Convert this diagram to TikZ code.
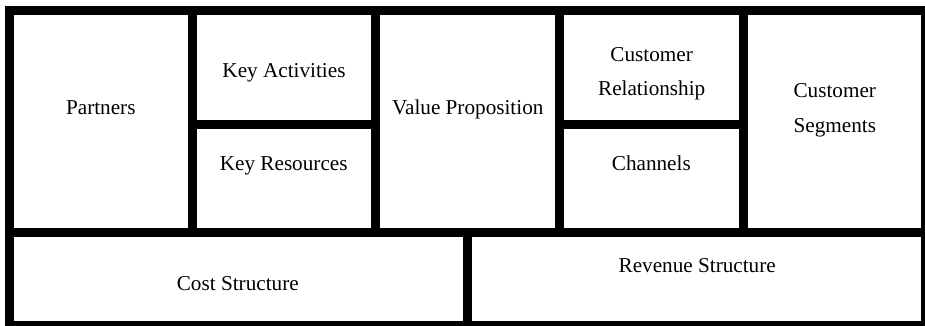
\documentclass[tikz,border=0pt]{standalone}
\usepackage{fontspec}
\setmainfont{Liberation Serif}
\begin{document}
\begin{tikzpicture}[x=1pt,y=-1pt,
  rule/.style={line width=9pt, draw=black},
  cell/.style={font=\fontsize{21.2}{34.7}\selectfont, inner sep=0pt, anchor=base, align=center, text=black}]
  \useasboundingbox (0,0) rectangle (925,326);
  \fill[white] (0,0) rectangle (925,326);
  \clip (0,0) rectangle (925,326);

  % outer frame and grid rules (centre lines)
  \coordinate (tl) at (9.2,10.5);
  \coordinate (br) at (925.5,325.5);
  \draw[rule] (tl) rectangle (br);
  \draw[rule] (9.2,232.5) -- (925.5,232.5);
  \draw[rule] (192.5,10.5) -- (192.5,232.5);
  \draw[rule] (375.5,10.5) -- (375.5,232.5);
  \draw[rule] (559.5,10.5) -- (559.5,232.5);
  \draw[rule] (743.5,10.5) -- (743.5,232.5);
  \draw[rule] (192.5,124.5) -- (375.5,124.5);
  \draw[rule] (559.5,124.5) -- (743.5,124.5);
  \draw[rule] (467.5,232.5) -- (467.5,325.5);

  % cell labels (base anchor = baseline of the last line)
  \node[cell] (partners) at (100.8,114.3) {Partners};
  \node[cell] (activities) at (284,78) {Key Activities};
  \node[cell] (resources) at (283.7,170.7) {Key Resources};
  \node[cell] (value) at (467.8,114.3) {Value Proposition};
  \node[cell] (relation) at (651.7,95.7) {Customer\\Relationship};
  \node[cell] (channels) at (651.3,170.7) {Channels};
  \node[cell] (segments) at (834.8,132.3) {Customer\\Segments};
  \node[cell] (cost) at (237.8,290) {Cost Structure};
  \node[cell] (revenue) at (697.2,272.3) {Revenue Structure};
\end{tikzpicture}
\end{document}
